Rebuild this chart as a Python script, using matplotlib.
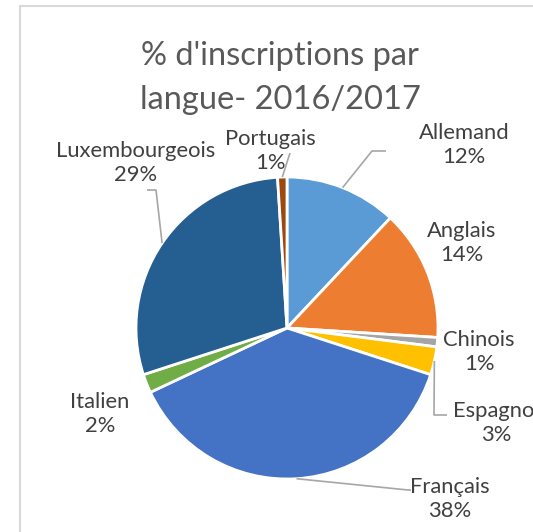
import numpy as np
import matplotlib.pyplot as plt
from matplotlib.patches import Rectangle

# data
langues = ['Allemand', 'Anglais', 'Chinois', 'Espagnol', 'Français',
           'Italien', 'Luxembourgeois', 'Portugais']
pourcent = [12, 14, 1, 3, 38, 2, 29, 1]
couleurs = ['#5B9BD5', '#ED7D31', '#A5A5A5', '#FFC000', '#4472C4',
            '#70AD47', '#255E91', '#9E480E']

plt.rcParams['font.family'] = ['Lato', 'DejaVu Sans']

W, H = 533, 532
CX, CY, R = 287, 328, 151  # pie centre and radius in pixels


def px(x, y):
    # pixel (from top-left) -> data units of the pie axes
    return (x - CX) / R, (CY - y) / R


fig = plt.figure(figsize=(W / 100, H / 100), dpi=100)
ax = fig.add_axes([0, 0, 1, 1])

# chart frame
fig.patches.append(Rectangle((20 / W, -0.1), 1.2, 1.1 - 6 / H, transform=fig.transFigure,
                             fill=False, edgecolor='#D9D9D9', linewidth=1.5))

wedges, _ = ax.pie(pourcent, colors=couleurs, startangle=90, counterclock=False,
                   radius=1, center=(0, 0), frame=True,
                   wedgeprops=dict(edgecolor='white', linewidth=2))
ax.set_xlim(-CX / R, (W - CX) / R)
ax.set_ylim(-(H - CY) / R, CY / R)
ax.set_aspect('auto')
ax.axis('off')

ax.text(*px(280, 56), "% d'inscriptions par", ha='center', va='center',
        fontsize=23.5, color='#595959')
ax.text(*px(280, 100), "langue- 2016/2017", ha='center', va='center',
        fontsize=23.5, color='#595959')

# label centres (pixels) and leader line bends
label_pos = {
    'Allemand': (464, 145),
    'Anglais': (462, 243),
    'Chinois': (479, 352),
    'Espagnol': (496, 423),
    'Français': (450, 499),
    'Italien': (100, 414),
    'Luxembourgeois': (136, 163),
    'Portugais': (270, 151),
}
leaders = {
    'Allemand': [(372, 151), (386, 151)],
    'Espagnol': [(434, 415), (447, 415)],
    'Français': [(408, 490), (411, 490)],
    'Luxembourgeois': [(156, 190), (147, 190)],
    'Portugais': [(290, 153)],
}

for w, nom, p in zip(wedges, langues, pourcent):
    x, y = px(*label_pos[nom])
    ax.text(x, y, f'{nom}\n{p}%', ha='center', va='center', fontsize=15.8,
            color='#404040', linespacing=1.3)
    if nom in leaders:
        mid = np.deg2rad((w.theta1 + w.theta2) / 2)
        pts = [(np.cos(mid) * 1.0, np.sin(mid) * 1.0)] + [px(*q) for q in leaders[nom]]
        xs, ys = zip(*pts)
        ax.plot(xs, ys, color='#A6A6A6', linewidth=1.2, solid_capstyle='butt')

fig.savefig('out.png', dpi=100)
